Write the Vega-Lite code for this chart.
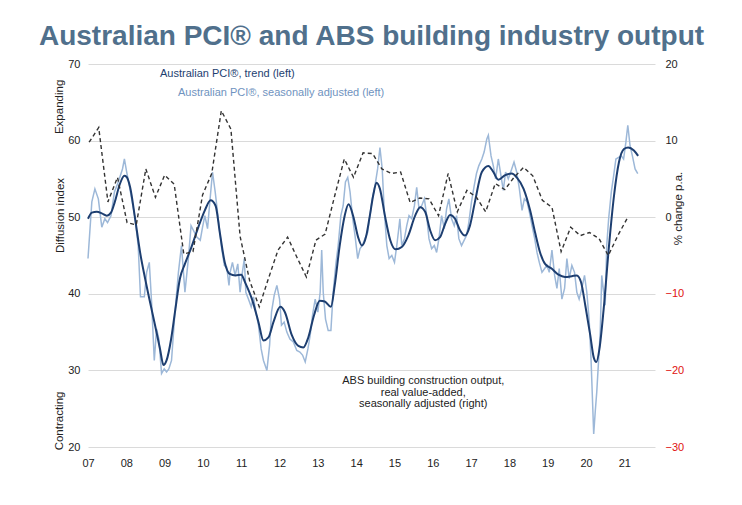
{
  "$schema": "https://vega.github.io/schema/vega-lite/v6.json",
  "width": 567,
  "height": 383,
  "autosize": {"type": "none"},
  "padding": {"left": 88, "top": 64, "right": 87, "bottom": 58},
  "background": "white",
  "title": {
    "text": "Australian PCI® and ABS building industry output",
    "anchor": "middle",
    "frame": "group",
    "font": "Liberation Sans",
    "fontSize": 28,
    "fontWeight": "bold",
    "color": "#50708c",
    "offset": -15,
    "baseline": "alphabetic"
  },
  "config": {
    "view": {"stroke": null},
    "font": "Liberation Sans",
    "text": {"font": "Liberation Sans"}
  },
  "datasets": {
    "sa": [
      {"t": 2007.00, "v": 44.6}, {"t": 2007.10, "v": 52.0}, {"t": 2007.18, "v": 53.7}, {"t": 2007.27, "v": 52.4},
      {"t": 2007.36, "v": 48.7}, {"t": 2007.44, "v": 49.8}, {"t": 2007.51, "v": 49.3}, {"t": 2007.60, "v": 50.2},
      {"t": 2007.69, "v": 53.3}, {"t": 2007.79, "v": 54.6}, {"t": 2007.90, "v": 56.3}, {"t": 2007.95, "v": 57.6},
      {"t": 2008.01, "v": 55.9}, {"t": 2008.08, "v": 54.1}, {"t": 2008.14, "v": 52.4}, {"t": 2008.23, "v": 49.8},
      {"t": 2008.31, "v": 46.3}, {"t": 2008.37, "v": 39.6}, {"t": 2008.47, "v": 39.6}, {"t": 2008.53, "v": 42.8},
      {"t": 2008.60, "v": 44.1}, {"t": 2008.66, "v": 38.9}, {"t": 2008.73, "v": 31.3}, {"t": 2008.79, "v": 35.4},
      {"t": 2008.85, "v": 34.1}, {"t": 2008.92, "v": 29.6}, {"t": 2008.99, "v": 30.2}, {"t": 2009.05, "v": 29.8},
      {"t": 2009.11, "v": 30.2}, {"t": 2009.18, "v": 31.3}, {"t": 2009.27, "v": 37.6}, {"t": 2009.36, "v": 42.8},
      {"t": 2009.44, "v": 46.3}, {"t": 2009.53, "v": 40.2}, {"t": 2009.62, "v": 44.6}, {"t": 2009.69, "v": 48.9},
      {"t": 2009.75, "v": 48.3}, {"t": 2009.84, "v": 47.4}, {"t": 2009.93, "v": 47.0}, {"t": 2009.99, "v": 48.7},
      {"t": 2010.05, "v": 50.2}, {"t": 2010.12, "v": 48.5}, {"t": 2010.18, "v": 52.0}, {"t": 2010.25, "v": 55.9},
      {"t": 2010.32, "v": 53.3}, {"t": 2010.40, "v": 49.8}, {"t": 2010.49, "v": 45.9}, {"t": 2010.56, "v": 43.7},
      {"t": 2010.62, "v": 43.5}, {"t": 2010.68, "v": 41.1}, {"t": 2010.71, "v": 42.8}, {"t": 2010.77, "v": 44.1},
      {"t": 2010.84, "v": 42.4}, {"t": 2010.91, "v": 43.9}, {"t": 2010.97, "v": 40.2}, {"t": 2011.03, "v": 42.8},
      {"t": 2011.08, "v": 44.6}, {"t": 2011.12, "v": 40.2}, {"t": 2011.19, "v": 39.3}, {"t": 2011.26, "v": 38.3},
      {"t": 2011.32, "v": 39.6}, {"t": 2011.38, "v": 37.6}, {"t": 2011.45, "v": 35.9}, {"t": 2011.52, "v": 32.8},
      {"t": 2011.58, "v": 31.3}, {"t": 2011.67, "v": 30.0}, {"t": 2011.74, "v": 33.3}, {"t": 2011.79, "v": 37.6},
      {"t": 2011.86, "v": 39.8}, {"t": 2011.93, "v": 41.1}, {"t": 2012.00, "v": 39.3}, {"t": 2012.05, "v": 35.9},
      {"t": 2012.12, "v": 36.3}, {"t": 2012.19, "v": 35.0}, {"t": 2012.27, "v": 34.1}, {"t": 2012.36, "v": 33.7},
      {"t": 2012.45, "v": 32.6}, {"t": 2012.53, "v": 32.4}, {"t": 2012.60, "v": 32.0}, {"t": 2012.67, "v": 31.1},
      {"t": 2012.74, "v": 32.8}, {"t": 2012.80, "v": 34.6}, {"t": 2012.86, "v": 37.2}, {"t": 2012.93, "v": 39.3},
      {"t": 2013.00, "v": 37.6}, {"t": 2013.06, "v": 40.2}, {"t": 2013.10, "v": 45.7}, {"t": 2013.14, "v": 40.2},
      {"t": 2013.20, "v": 36.7}, {"t": 2013.27, "v": 35.2}, {"t": 2013.34, "v": 35.2}, {"t": 2013.40, "v": 40.2},
      {"t": 2013.47, "v": 43.9}, {"t": 2013.53, "v": 46.3}, {"t": 2013.60, "v": 50.2}, {"t": 2013.66, "v": 51.5},
      {"t": 2013.72, "v": 54.6}, {"t": 2013.78, "v": 55.2}, {"t": 2013.84, "v": 53.3}, {"t": 2013.91, "v": 49.8},
      {"t": 2013.97, "v": 47.6}, {"t": 2014.04, "v": 44.6}, {"t": 2014.10, "v": 45.9}, {"t": 2014.16, "v": 46.3},
      {"t": 2014.23, "v": 47.2}, {"t": 2014.30, "v": 48.0}, {"t": 2014.36, "v": 50.2}, {"t": 2014.42, "v": 52.4},
      {"t": 2014.49, "v": 54.1}, {"t": 2014.56, "v": 56.3}, {"t": 2014.62, "v": 59.1}, {"t": 2014.68, "v": 56.3},
      {"t": 2014.73, "v": 51.1}, {"t": 2014.80, "v": 46.3}, {"t": 2014.86, "v": 44.6}, {"t": 2014.93, "v": 45.0},
      {"t": 2015.00, "v": 44.1}, {"t": 2015.06, "v": 46.3}, {"t": 2015.10, "v": 48.0}, {"t": 2015.14, "v": 49.8},
      {"t": 2015.19, "v": 46.3}, {"t": 2015.26, "v": 47.2}, {"t": 2015.32, "v": 48.9}, {"t": 2015.38, "v": 50.2},
      {"t": 2015.45, "v": 49.8}, {"t": 2015.52, "v": 51.5}, {"t": 2015.58, "v": 53.9}, {"t": 2015.64, "v": 51.1},
      {"t": 2015.71, "v": 51.5}, {"t": 2015.78, "v": 52.4}, {"t": 2015.84, "v": 50.2}, {"t": 2015.90, "v": 47.2},
      {"t": 2015.97, "v": 45.9}, {"t": 2016.04, "v": 46.3}, {"t": 2016.10, "v": 45.4}, {"t": 2016.16, "v": 47.2},
      {"t": 2016.23, "v": 50.2}, {"t": 2016.30, "v": 48.5}, {"t": 2016.36, "v": 51.1}, {"t": 2016.42, "v": 52.4},
      {"t": 2016.49, "v": 49.8}, {"t": 2016.56, "v": 48.9}, {"t": 2016.62, "v": 50.2}, {"t": 2016.68, "v": 47.2},
      {"t": 2016.75, "v": 46.3}, {"t": 2016.82, "v": 47.0}, {"t": 2016.88, "v": 47.6}, {"t": 2016.94, "v": 49.3},
      {"t": 2017.01, "v": 52.0}, {"t": 2017.08, "v": 54.1}, {"t": 2017.14, "v": 55.7}, {"t": 2017.20, "v": 56.7},
      {"t": 2017.28, "v": 57.6}, {"t": 2017.34, "v": 58.5}, {"t": 2017.41, "v": 60.2}, {"t": 2017.45, "v": 60.7},
      {"t": 2017.52, "v": 58.0}, {"t": 2017.58, "v": 56.7}, {"t": 2017.64, "v": 55.0}, {"t": 2017.71, "v": 57.6},
      {"t": 2017.78, "v": 55.4}, {"t": 2017.84, "v": 53.5}, {"t": 2017.90, "v": 55.9}, {"t": 2017.97, "v": 55.0},
      {"t": 2018.06, "v": 56.3}, {"t": 2018.12, "v": 57.2}, {"t": 2018.19, "v": 55.9}, {"t": 2018.26, "v": 53.7},
      {"t": 2018.33, "v": 50.9}, {"t": 2018.39, "v": 52.4}, {"t": 2018.46, "v": 52.0}, {"t": 2018.52, "v": 50.7},
      {"t": 2018.59, "v": 48.9}, {"t": 2018.66, "v": 47.2}, {"t": 2018.72, "v": 45.4}, {"t": 2018.78, "v": 44.1},
      {"t": 2018.85, "v": 42.8}, {"t": 2018.92, "v": 43.3}, {"t": 2018.98, "v": 43.7}, {"t": 2019.04, "v": 42.8},
      {"t": 2019.11, "v": 45.7}, {"t": 2019.18, "v": 42.4}, {"t": 2019.24, "v": 40.7}, {"t": 2019.30, "v": 43.3},
      {"t": 2019.37, "v": 39.3}, {"t": 2019.44, "v": 40.7}, {"t": 2019.50, "v": 44.6}, {"t": 2019.56, "v": 42.0},
      {"t": 2019.63, "v": 43.7}, {"t": 2019.70, "v": 42.8}, {"t": 2019.76, "v": 40.2}, {"t": 2019.82, "v": 39.3},
      {"t": 2019.89, "v": 40.7}, {"t": 2019.96, "v": 42.4}, {"t": 2020.02, "v": 40.2}, {"t": 2020.08, "v": 36.7},
      {"t": 2020.13, "v": 31.5}, {"t": 2020.17, "v": 25.9}, {"t": 2020.20, "v": 21.7}, {"t": 2020.24, "v": 24.6},
      {"t": 2020.28, "v": 27.2}, {"t": 2020.33, "v": 31.5}, {"t": 2020.37, "v": 35.0}, {"t": 2020.41, "v": 42.4},
      {"t": 2020.46, "v": 40.2}, {"t": 2020.50, "v": 38.5}, {"t": 2020.54, "v": 46.3}, {"t": 2020.59, "v": 49.8},
      {"t": 2020.66, "v": 53.3}, {"t": 2020.72, "v": 55.4}, {"t": 2020.78, "v": 57.6}, {"t": 2020.85, "v": 57.8},
      {"t": 2020.92, "v": 58.0}, {"t": 2020.98, "v": 57.6}, {"t": 2021.04, "v": 59.8}, {"t": 2021.09, "v": 62.0},
      {"t": 2021.15, "v": 59.3}, {"t": 2021.21, "v": 58.0}, {"t": 2021.28, "v": 56.3}, {"t": 2021.35, "v": 55.7}
    ],
    "trend": [
      {"t": 2007.00, "v": 49.8}, {"t": 2007.10, "v": 50.6}, {"t": 2007.23, "v": 50.7}, {"t": 2007.36, "v": 50.5},
      {"t": 2007.49, "v": 50.2}, {"t": 2007.60, "v": 50.6}, {"t": 2007.70, "v": 52.0}, {"t": 2007.83, "v": 54.3},
      {"t": 2007.95, "v": 55.4}, {"t": 2008.00, "v": 55.3}, {"t": 2008.10, "v": 53.9}, {"t": 2008.23, "v": 49.8},
      {"t": 2008.36, "v": 45.4}, {"t": 2008.49, "v": 42.0}, {"t": 2008.62, "v": 38.9}, {"t": 2008.75, "v": 35.9},
      {"t": 2008.88, "v": 32.8}, {"t": 2008.97, "v": 30.7}, {"t": 2009.05, "v": 31.3}, {"t": 2009.17, "v": 34.1},
      {"t": 2009.27, "v": 37.6}, {"t": 2009.40, "v": 42.0}, {"t": 2009.53, "v": 43.9}, {"t": 2009.70, "v": 46.1},
      {"t": 2009.88, "v": 48.7}, {"t": 2010.05, "v": 50.9}, {"t": 2010.20, "v": 52.2}, {"t": 2010.33, "v": 51.5},
      {"t": 2010.44, "v": 48.0}, {"t": 2010.57, "v": 44.1}, {"t": 2010.70, "v": 42.6}, {"t": 2010.85, "v": 42.4},
      {"t": 2011.00, "v": 42.5}, {"t": 2011.10, "v": 41.5}, {"t": 2011.28, "v": 39.3}, {"t": 2011.45, "v": 36.3},
      {"t": 2011.58, "v": 33.9}, {"t": 2011.71, "v": 34.3}, {"t": 2011.84, "v": 36.3}, {"t": 2012.02, "v": 38.3},
      {"t": 2012.14, "v": 37.6}, {"t": 2012.32, "v": 34.6}, {"t": 2012.49, "v": 33.2}, {"t": 2012.62, "v": 33.0},
      {"t": 2012.75, "v": 34.3}, {"t": 2012.90, "v": 37.2}, {"t": 2013.05, "v": 39.1}, {"t": 2013.18, "v": 39.0},
      {"t": 2013.34, "v": 38.3}, {"t": 2013.44, "v": 41.1}, {"t": 2013.57, "v": 46.3}, {"t": 2013.70, "v": 50.2},
      {"t": 2013.80, "v": 51.7}, {"t": 2013.92, "v": 50.2}, {"t": 2014.05, "v": 47.4}, {"t": 2014.15, "v": 46.3},
      {"t": 2014.26, "v": 47.5}, {"t": 2014.35, "v": 50.0}, {"t": 2014.45, "v": 53.0}, {"t": 2014.53, "v": 54.5},
      {"t": 2014.62, "v": 53.7}, {"t": 2014.75, "v": 50.2}, {"t": 2014.89, "v": 47.0}, {"t": 2015.03, "v": 45.8},
      {"t": 2015.19, "v": 46.1}, {"t": 2015.36, "v": 47.6}, {"t": 2015.54, "v": 50.2}, {"t": 2015.67, "v": 51.3},
      {"t": 2015.80, "v": 50.7}, {"t": 2015.93, "v": 48.3}, {"t": 2016.06, "v": 47.0}, {"t": 2016.19, "v": 47.4},
      {"t": 2016.32, "v": 49.1}, {"t": 2016.45, "v": 50.3}, {"t": 2016.58, "v": 49.8}, {"t": 2016.71, "v": 48.3},
      {"t": 2016.84, "v": 47.6}, {"t": 2016.97, "v": 48.9}, {"t": 2017.10, "v": 52.0}, {"t": 2017.28, "v": 55.9},
      {"t": 2017.45, "v": 56.7}, {"t": 2017.58, "v": 55.9}, {"t": 2017.71, "v": 54.9}, {"t": 2017.89, "v": 55.5},
      {"t": 2018.06, "v": 55.7}, {"t": 2018.19, "v": 55.2}, {"t": 2018.37, "v": 53.7}, {"t": 2018.54, "v": 50.9},
      {"t": 2018.67, "v": 48.0}, {"t": 2018.80, "v": 45.4}, {"t": 2018.93, "v": 43.9}, {"t": 2019.10, "v": 43.3},
      {"t": 2019.28, "v": 42.5}, {"t": 2019.45, "v": 42.2}, {"t": 2019.63, "v": 42.3}, {"t": 2019.76, "v": 42.4},
      {"t": 2019.87, "v": 41.5}, {"t": 2019.98, "v": 38.5}, {"t": 2020.11, "v": 34.6}, {"t": 2020.20, "v": 31.7},
      {"t": 2020.27, "v": 31.1}, {"t": 2020.35, "v": 32.8}, {"t": 2020.46, "v": 38.0}, {"t": 2020.60, "v": 46.3},
      {"t": 2020.73, "v": 52.8}, {"t": 2020.86, "v": 57.2}, {"t": 2020.99, "v": 58.9}, {"t": 2021.10, "v": 59.1},
      {"t": 2021.25, "v": 58.7}, {"t": 2021.36, "v": 58.0}
    ],
    "abs": [
      {"t": 2007.03, "v": 9.8}, {"t": 2007.28, "v": 11.7}, {"t": 2007.52, "v": 2.0}, {"t": 2007.77, "v": 5.2},
      {"t": 2008.02, "v": -0.7}, {"t": 2008.26, "v": -1.0}, {"t": 2008.51, "v": 6.3}, {"t": 2008.76, "v": 2.6},
      {"t": 2009.00, "v": 5.5}, {"t": 2009.25, "v": 4.3}, {"t": 2009.50, "v": -4.8}, {"t": 2009.74, "v": -4.5},
      {"t": 2009.99, "v": 2.9}, {"t": 2010.23, "v": 5.7}, {"t": 2010.48, "v": 13.9}, {"t": 2010.73, "v": 11.5},
      {"t": 2010.97, "v": -2.5}, {"t": 2011.22, "v": -8.3}, {"t": 2011.47, "v": -11.7}, {"t": 2011.71, "v": -8.0},
      {"t": 2011.96, "v": -4.3}, {"t": 2012.21, "v": -2.6}, {"t": 2012.45, "v": -5.2}, {"t": 2012.70, "v": -7.8},
      {"t": 2012.95, "v": -3.0}, {"t": 2013.19, "v": -2.2}, {"t": 2013.44, "v": 2.8}, {"t": 2013.69, "v": 7.6},
      {"t": 2013.93, "v": 5.2}, {"t": 2014.18, "v": 8.4}, {"t": 2014.43, "v": 8.3}, {"t": 2014.67, "v": 6.3},
      {"t": 2014.92, "v": 5.7}, {"t": 2015.16, "v": 5.9}, {"t": 2015.41, "v": 1.9}, {"t": 2015.66, "v": 2.5},
      {"t": 2015.90, "v": 2.4}, {"t": 2016.15, "v": 0.2}, {"t": 2016.40, "v": 5.7}, {"t": 2016.64, "v": 0.7},
      {"t": 2016.89, "v": 3.5}, {"t": 2017.14, "v": 2.6}, {"t": 2017.38, "v": 0.7}, {"t": 2017.63, "v": 4.4},
      {"t": 2017.88, "v": 3.6}, {"t": 2018.12, "v": 5.2}, {"t": 2018.37, "v": 6.5}, {"t": 2018.61, "v": 5.4},
      {"t": 2018.86, "v": 2.2}, {"t": 2019.11, "v": 1.3}, {"t": 2019.35, "v": -4.5}, {"t": 2019.60, "v": -1.3},
      {"t": 2019.85, "v": -2.4}, {"t": 2020.09, "v": -2.0}, {"t": 2020.34, "v": -2.8}, {"t": 2020.58, "v": -5.0},
      {"t": 2020.83, "v": -2.4}, {"t": 2021.08, "v": -0.1}
    ],
    "notes_navy": [{"t": 2008.88, "v": 68.7, "label": "Australian PCI®, trend (left)"}],
    "notes_light": [{"t": 2009.35, "v": 66.2, "label": "Australian PCI®, seasonally adjusted (left)"}],
    "notes_abs": [
      {"t": 2015.75, "v": 28.66, "label": "ABS building construction output,"},
      {"t": 2015.75, "v": 27.0, "label": "real value-added,"},
      {"t": 2015.75, "v": 25.57, "label": "seasonally adjusted (right)"}
    ],
    "notes_side": [
      {"t": 2006.27, "v": 64.4, "label": "Expanding"},
      {"t": 2006.27, "v": 23.4, "label": "Contracting"}
    ]
  },
  "layer": [
    {
      "encoding": {
        "x": {
          "field": "t",
          "type": "quantitative",
          "scale": {"domain": [2007, 2021.8], "nice": false, "zero": false},
          "axis": {
            "values": [2007, 2008, 2009, 2010, 2011, 2012, 2013, 2014, 2015, 2016, 2017, 2018, 2019, 2020, 2021],
            "format": "d",
            "labelExpr": "slice(datum.label, 2)",
            "grid": false,
            "domain": false,
            "ticks": false,
            "labelPadding": 10,
            "labelFontSize": 11,
            "labelColor": "#222222",
            "labelFlush": false,
            "labelOverlap": false,
            "title": null
          }
        },
        "y": {
          "field": "v",
          "type": "quantitative",
          "scale": {"domain": [20, 70], "nice": false, "zero": false},
          "axis": {
            "orient": "left",
            "values": [20, 30, 40, 50, 60, 70],
            "grid": true,
            "gridColor": "#dadada",
            "gridWidth": 1,
            "domain": false,
            "ticks": false,
            "labelPadding": 8,
            "labelFontSize": 11,
            "labelColor": "#222222",
            "title": "Diffusion index",
            "titleFontWeight": "normal",
            "titleFontSize": 11.5,
            "titleColor": "#222222",
            "titleAngle": -90,
            "titleX": -28,
            "titleY": 151,
            "titleBaseline": "middle",
            "titleAlign": "center"
          }
        }
      },
      "layer": [
        {"mark": {"type": "rule", "color": "#bdbdbd", "strokeWidth": 1}, "encoding": {"y": {"datum": 50}}},
        {"data": {"name": "sa"}, "mark": {"type": "line", "color": "#9db8d8", "strokeWidth": 1.5}},
        {"data": {"name": "trend"}, "mark": {"type": "line", "color": "#1d3e70", "strokeWidth": 2, "interpolate": "monotone"}},
        {"data": {"name": "notes_navy"}, "mark": {"type": "text", "align": "left", "baseline": "middle", "fontSize": 11, "color": "#1d3e70"}, "encoding": {"text": {"field": "label"}}},
        {"data": {"name": "notes_light"}, "mark": {"type": "text", "align": "left", "baseline": "middle", "fontSize": 11, "color": "#6f93c0"}, "encoding": {"text": {"field": "label"}}},
        {"data": {"name": "notes_abs"}, "mark": {"type": "text", "align": "center", "baseline": "middle", "fontSize": 11, "color": "#222222"}, "encoding": {"text": {"field": "label"}}},
        {"data": {"name": "notes_side"}, "mark": {"type": "text", "align": "center", "baseline": "middle", "fontSize": 11.5, "angle": 270, "color": "#222222"}, "encoding": {"text": {"field": "label"}}}
      ]
    },
    {
      "data": {"name": "abs"},
      "mark": {"type": "line", "color": "#333333", "strokeWidth": 1.4, "strokeDash": [4, 3]},
      "encoding": {
        "x": {"field": "t", "type": "quantitative", "scale": {"domain": [2007, 2021.8], "nice": false, "zero": false}},
        "y": {
          "field": "v",
          "type": "quantitative",
          "scale": {"domain": [-30, 20], "nice": false, "zero": false},
          "axis": {
            "orient": "right",
            "values": [-30, -20, -10, 0, 10, 20],
            "grid": false,
            "domain": false,
            "ticks": false,
            "labelPadding": 10,
            "labelFontSize": 11,
            "labelColor": {"condition": {"test": "datum.value < 0", "value": "#e01010"}, "value": "#222222"},
            "title": "% change p.a.",
            "titleFontWeight": "normal",
            "titleFontSize": 11.5,
            "titleColor": "#222222",
            "titleAngle": -90,
            "titleX": 23,
            "titleY": 144,
            "titleBaseline": "middle",
            "titleAlign": "center"
          }
        }
      }
    }
  ],
  "resolve": {"scale": {"y": "independent"}, "axis": {"y": "independent"}}
}
